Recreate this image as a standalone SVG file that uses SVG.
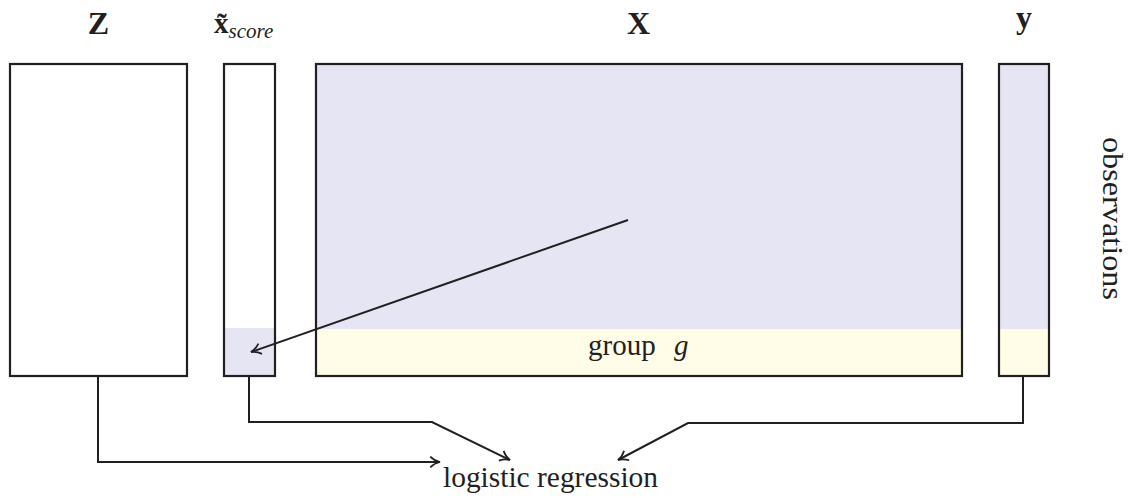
<svg xmlns="http://www.w3.org/2000/svg" width="1134" height="498" viewBox="0 0 1134 498">
<style>
.box{fill:none;stroke:#231f20;stroke-width:2.2}
.lav{fill:#e6e5f3}
.yel{fill:#fffce8}
.t{font-family:'Liberation Serif','Times New Roman',Times,'DejaVu Serif',serif;fill:#231f20}
.b{font-weight:bold;font-size:32px}
.conn{fill:none;stroke:#231f20;stroke-width:2}
</style>
<defs>
<marker id="ah" viewBox="0 0 12 12" refX="11" refY="6" markerWidth="13" markerHeight="13" markerUnits="userSpaceOnUse" orient="auto">
<path d="M2,1 Q6,5 11,6 Q6,7 2,11" fill="none" stroke="#231f20" stroke-width="1.6"/>
</marker>
</defs>
<g id="Z">
<rect x="10" y="64" width="177" height="312" fill="#fff"/>
<rect class="box" x="10" y="64" width="177" height="312"/>
<text class="t b" x="98.5" y="34" text-anchor="middle">Z</text>
</g>
<g id="xscore">
<rect class="lav" x="224" y="328" width="51" height="48"/>
<rect class="box" x="224" y="64" width="51" height="312"/>
<text class="t" x="214" y="33" font-size="29" font-weight="bold">x̃<tspan font-size="21" font-weight="normal" font-style="italic" dy="5">score</tspan></text>
</g>
<g id="X">
<rect class="lav" x="316" y="64" width="646" height="265"/>
<rect class="yel" x="316" y="329" width="646" height="47"/>
<rect class="box" x="316" y="64" width="646" height="312"/>
<text class="t b" x="638.5" y="34" text-anchor="middle">X</text>
<text class="t" x="588" y="355" font-size="29">group<tspan x="674" font-style="italic">g</tspan></text>
</g>
<g id="y">
<rect class="lav" x="999" y="64" width="50" height="265"/>
<rect class="yel" x="999" y="329" width="50" height="47"/>
<rect class="box" x="999" y="64" width="50" height="312"/>
<text class="t b" x="1024" y="28" text-anchor="middle">y</text>
</g>
<g id="observations">
<text class="t" font-size="30" textLength="163" lengthAdjust="spacingAndGlyphs" transform="translate(1103,137) rotate(90)">observations</text>
</g>
<g id="logistic">
<text class="t" x="443" y="487" font-size="30" textLength="215" lengthAdjust="spacingAndGlyphs">logistic regression</text>
</g>
<g id="connectors">
<path class="conn" d="M628,220 L251,352" marker-end="url(#ah)"/>
<path class="conn" d="M98,376 V462 H440" marker-end="url(#ah)"/>
<path class="conn" d="M249,376 V422 H432 L510,460" marker-end="url(#ah)"/>
<path class="conn" d="M1023,376 V423 H688 L618,460" marker-end="url(#ah)"/>
</g>
</svg>
